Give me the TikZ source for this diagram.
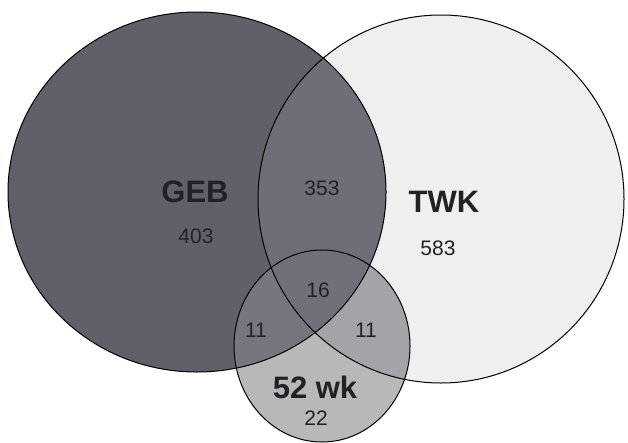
\documentclass[tikz,border=0pt]{standalone}
\usepackage{fontspec}
\setmainfont{Liberation Sans}
\usetikzlibrary{positioning}
\definecolor{gebfill}{RGB}{96,96,106}
\definecolor{twkfill}{RGB}{239,239,239}
\definecolor{wkfill}{RGB}{184,184,184}
\definecolor{gebtwk}{RGB}{110,110,120}
\definecolor{gebwk}{RGB}{118,118,126}
\definecolor{twkwk}{RGB}{164,164,168}
\definecolor{allsets}{RGB}{112,112,122}
\definecolor{inktext}{RGB}{34,34,38}
\tikzset{
  setname/.style={font=\fontsize{31}{31}\selectfont\bfseries, text=inktext, inner sep=0pt},
  setcount/.style={font=\fontsize{21}{21}\selectfont, text=inktext, inner sep=0pt},
  setline/.style={draw=black, line width=1pt}
}

\begin{document}
\begin{tikzpicture}[x=1pt, y=-1pt]
    \useasboundingbox (0,0) rectangle (628,442);
    \def\gebset{(197,192) ellipse [x radius=189, y radius=180]}
    \def\twkset{(441,199) ellipse [x radius=183, y radius=184]}
    \def\wkset{(322,346) ellipse [x radius=88, y radius=96]}

    % einzelne Mengen
    \fill[twkfill] \twkset;
    \fill[gebfill] \gebset;
    \fill[wkfill] \wkset;

    % Schnittmengen
    \begin{scope}
        \clip \gebset;
        \fill[gebtwk] \twkset;
        \fill[gebwk] \wkset;
    \end{scope}
    \begin{scope}
        \clip \twkset;
        \fill[twkwk] \wkset;
    \end{scope}
    \begin{scope}
        \clip \gebset;
        \clip \twkset;
        \fill[allsets] \wkset;
    \end{scope}

    % Umrisse
    \draw[setline] \gebset;
    \draw[setline] \twkset;
    \draw[setline] \wkset;

    % Beschriftung
    \node[setname] (geb) at (195,192) {GEB};
    \node[setcount] (gebonly) at (196,236) {403};
    \node[setname] (twk) at (444,202) {TWK};
    \node[setcount] (twkonly) at (438,248) {583};
    \node[setcount] (gebtwkcount) at (322,188) {353};
    \node[setcount] (allcount) at (318,290) {16};
    \node[setcount] (gebwkcount) at (256,330) {11};
    \node[setcount] (twkwkcount) at (366,330) {11};
    \node[setname] (wk) at (315,387) {52 wk};
    \node[setcount] (wkonly) at (316,418) {22};
\end{tikzpicture}
\end{document}
